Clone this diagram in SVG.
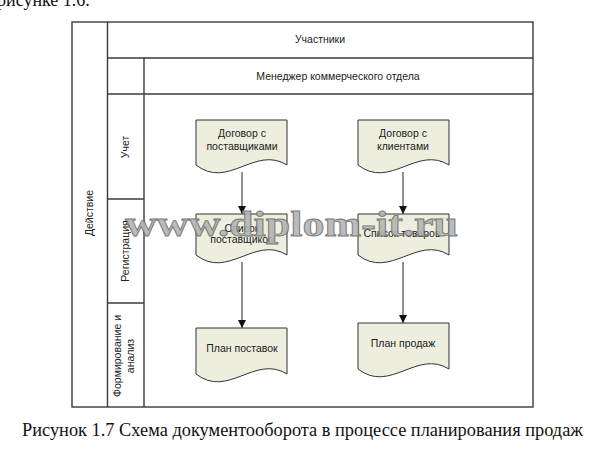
<svg xmlns="http://www.w3.org/2000/svg" width="591" height="460" viewBox="0 0 591 460">
<style>
.frame{fill:none;stroke:#3a3a3a;stroke-width:1.4}
.doc{fill:#EDEEDD;stroke:#333;stroke-width:1}
.lbl{font-family:"Liberation Sans",Arial,sans-serif;font-size:10.5px;fill:#222;text-anchor:middle}
.cap{font-family:"Liberation Serif","Times New Roman",serif;font-size:18px;fill:#111}
.conn{stroke:#222;stroke-width:1;fill:none;marker-end:url(#arr)}
.wm{font-family:"Liberation Serif","Times New Roman",serif;font-weight:bold;font-size:36px;fill:#b4b4b4;stroke:#6a6a6a;stroke-width:0.8}
</style>
<defs>
<marker id="arr" markerWidth="8" markerHeight="10" refX="8" refY="5" orient="auto" markerUnits="userSpaceOnUse">
<path d="M0,1 L8,5 L0,9 Z" fill="#111"/>
</marker>
</defs>
<rect width="591" height="460" fill="#fff"/>
<text class="cap" x="-3" y="6">рисунке 1.6.</text>

<g id="frame">
<rect class="frame" x="72" y="22" width="461" height="385"/>
<line class="frame" x1="107.5" y1="22" x2="107.5" y2="407"/>
<line class="frame" x1="144" y1="58" x2="144" y2="407"/>
<line class="frame" x1="107.5" y1="58" x2="533" y2="58"/>
<line class="frame" x1="107.5" y1="94" x2="533" y2="94"/>
<line class="frame" x1="107.5" y1="199" x2="144" y2="199"/>
<line class="frame" x1="107.5" y1="303" x2="144" y2="303"/>
</g>

<g id="headers">
<text class="lbl" x="320" y="43">Участники</text>
<text class="lbl" x="338" y="80">Менеджер коммерческого отдела</text>
<text class="lbl" transform="translate(93,213) rotate(-90)">Действие</text>
<text class="lbl" transform="translate(129,147) rotate(-90)">Учет</text>
<text class="lbl" transform="translate(129,251) rotate(-90)">Регистрация</text>
<text class="lbl" transform="translate(121,356) rotate(-90)">Формирование и</text>
<text class="lbl" transform="translate(134,356) rotate(-90)">анализ</text>
</g>

<g id="connectors">
<line class="conn" x1="242" y1="172" x2="242" y2="214"/>
<line class="conn" x1="242" y1="262" x2="242" y2="328"/>
<line class="conn" x1="403" y1="172" x2="403" y2="214"/>
<line class="conn" x1="403" y1="262" x2="403" y2="323"/>
</g>

<g id="doc1">
<path class="doc" d="M196,120 H287 V165 C255,145 228,190 196,165 Z"/>
<text class="lbl" x="242" y="137">Договор с</text>
<text class="lbl" x="242" y="150">поставщиками</text>
</g>
<g id="doc2">
<path class="doc" d="M358,120 H449 V165 C417,145 390,190 358,165 Z"/>
<text class="lbl" x="403" y="137">Договор с</text>
<text class="lbl" x="403" y="150">клиентами</text>
</g>
<g id="doc3">
<path class="doc" d="M196,214 H287 V255 C255,235 228,280 196,255 Z"/>
<text class="lbl" x="242" y="232">Список</text>
<text class="lbl" x="242" y="243">поставщиков</text>
</g>
<g id="doc4">
<path class="doc" d="M358,214 H449 V255 C417,235 390,280 358,255 Z"/>
<text class="lbl" x="402" y="237">Список товаров</text>
</g>
<g id="doc5">
<path class="doc" d="M196,328 H287 V374 C255,354 228,399 196,374 Z"/>
<text class="lbl" x="242" y="352">План поставок</text>
</g>
<g id="doc6">
<path class="doc" d="M358,323 H449 V369 C417,349 390,394 358,369 Z"/>
<text class="lbl" x="403" y="347">План продаж</text>
</g>

<text class="wm" x="125" y="236" textLength="333" lengthAdjust="spacingAndGlyphs" opacity="0.9">www.diplom-it.ru</text>

<text class="cap" x="22" y="436" textLength="561" lengthAdjust="spacingAndGlyphs">Рисунок 1.7 Схема документооборота в процессе планирования продаж</text>
</svg>
